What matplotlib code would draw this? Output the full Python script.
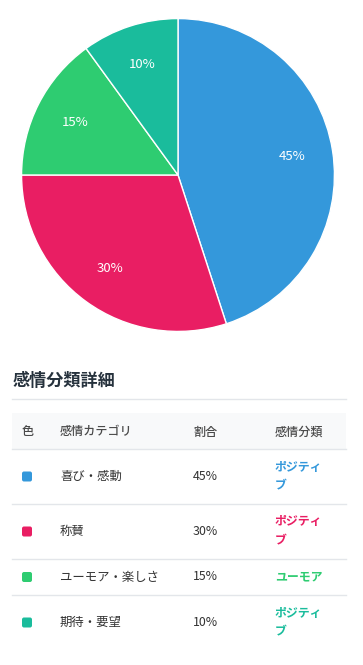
import matplotlib.pyplot as plt
from matplotlib.patches import FancyBboxPatch, Rectangle

plt.rcParams['font.family'] = ['Noto Sans CJK JP', 'DejaVu Sans']

# データ
categories = ['喜び・感動', '称賛', 'ユーモア・楽しさ', '期待・要望']
values = [45, 30, 15, 10]
colors = ['#3498db', '#e91e63', '#2ecc71', '#1abc9c']
kinds = ['ポジティ\nブ', 'ポジティ\nブ', 'ユーモア', 'ポジティ\nブ']
headers = ['色', '感情カテゴリ', '割合', '感情分類']

W, H = 363, 665
fig = plt.figure(figsize=(W / 100, H / 100), dpi=100)

# 円グラフ
cx, cy, r = 178, 175, 158
ax = fig.add_axes([(cx - r) / W, (H - cy - r) / H, 2 * r / W, 2 * r / H])
ax.pie(values, colors=colors, startangle=90, counterclock=False,
       autopct='%d%%', pctdistance=0.74,
       wedgeprops=dict(edgecolor='white', linewidth=1),
       textprops=dict(color='white', fontsize=9.5))
ax.set_xlim(-1.01, 1.01)
ax.set_ylim(-1.01, 1.01)
ax.axis('off')

# 表
tx = fig.add_axes([0, 0, 1, 1])
tx.set_xlim(0, W)
tx.set_ylim(H, 0)
tx.axis('off')

tx.text(13, 381, '感情分類詳細', fontsize=12.3, fontweight='bold', color='#26323d', va='center')
tx.plot([12, 346], [399, 399], color='#e3e6ea', lw=1)

tx.add_patch(Rectangle((12, 413), 334, 36, facecolor='#f8f9fa', edgecolor='none'))
col_x = [22, 60, 193, 275]
for x, h in zip(col_x, headers):
    tx.text(x, 432, h, fontsize=8.7, color='#4a4a4a', va='center', fontweight='medium')
tx.plot([12, 346], [449, 449], color='#e3e6ea', lw=1)

row_bounds = [449, 504, 559, 595, 650]
for i, (cat, val, col, kind) in enumerate(zip(categories, values, colors, kinds)):
    top, bot = row_bounds[i], row_bounds[i + 1]
    yc = (top + bot) / 2
    tx.add_patch(FancyBboxPatch((22, yc - 5), 10, 10, boxstyle='round,pad=0,rounding_size=2',
                                facecolor=col, edgecolor='none'))
    tx.text(60, yc, cat, fontsize=8.9, color='#333333', va='center')
    tx.text(193, yc, f'{val}%', fontsize=8.9, color='#333333', va='center')
    tx.text(275, yc, kind, fontsize=8.6, color=col, va='center', fontweight='bold',
            linespacing=1.6)
    if i < len(categories) - 1:
        tx.plot([12, 346], [bot, bot], color='#e3e6ea', lw=1)

fig.savefig('out.png', dpi=100, facecolor='white')
